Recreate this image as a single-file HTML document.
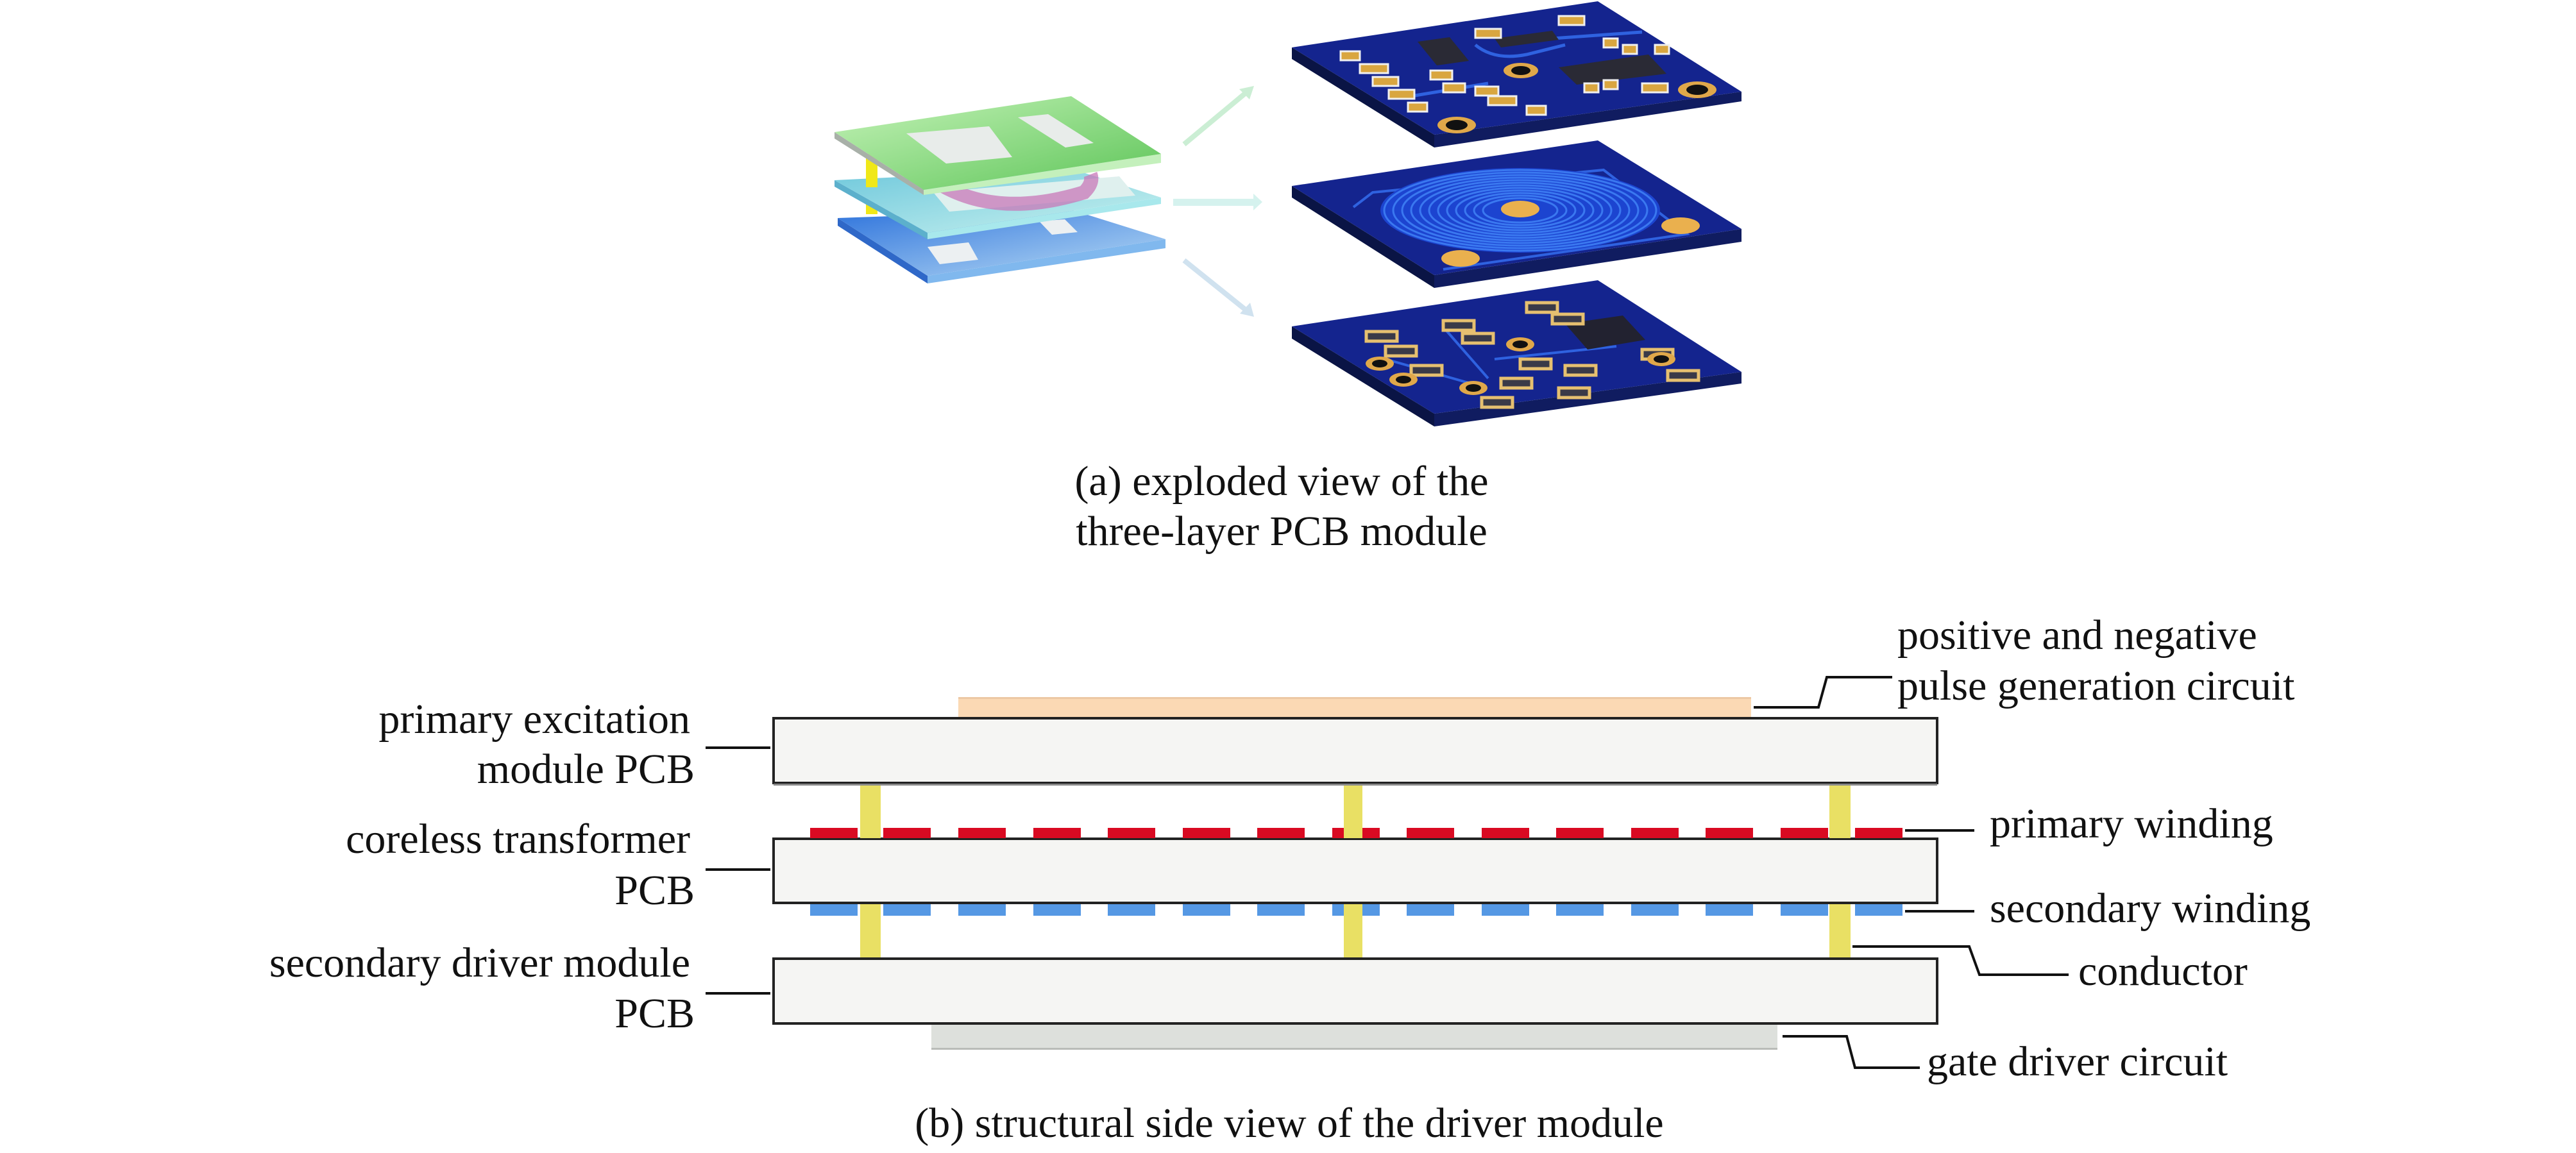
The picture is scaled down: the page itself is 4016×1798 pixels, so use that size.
<!DOCTYPE html>
<html><head><meta charset="utf-8"><style>
html,body{margin:0;padding:0;background:#fff;}
svg{display:block;}
text{font-family:"Liberation Serif",serif;fill:#111;}
</style></head><body>
<svg width="4016" height="1798" viewBox="0 0 4016 1798" xmlns="http://www.w3.org/2000/svg">
<defs>
<linearGradient id="gG" x1="0" y1="0" x2="1" y2="1"><stop offset="0" stop-color="#c5f3b8"/><stop offset="1" stop-color="#5cc457"/></linearGradient>
<linearGradient id="gC" x1="0" y1="0" x2="1" y2="1"><stop offset="0" stop-color="#6fc8dc"/><stop offset="1" stop-color="#c9f2ef"/></linearGradient>
<linearGradient id="gB" x1="0" y1="0" x2="1" y2="1"><stop offset="0" stop-color="#2f74dc"/><stop offset="1" stop-color="#b9dcf5"/></linearGradient>
</defs>

<polygon points="1306,340 1446,430 1446,442 1306,352" fill="#2f68c8"/>
<polygon points="1446,430 1817,373 1817,387 1446,442" fill="#80b8ee"/>
<polygon points="1306,340 1670,327 1817,373 1446,430" fill="url(#gB)"/>
<polygon points="1446,385 1510,378 1525,405 1465,412" fill="#ecf0f2"/>
<polygon points="1620,345 1660,342 1680,362 1640,366" fill="#ecf0f2"/>
<rect x="1350" y="318" width="18" height="16" fill="#f0e818"/>

<polygon points="1301,281 1446,363 1446,373 1301,291" fill="#5cb0cc"/>
<polygon points="1446,363 1810,308 1810,318 1446,373" fill="#a8e8ec"/>
<polygon points="1301,281 1670,263 1810,308 1446,363" fill="url(#gC)"/>
<polygon points="1455,300 1745,275 1770,305 1480,330" fill="#dff0ee"/>
<path d="M1470,290 Q1560,340 1690,300 Q1705,285 1700,272" fill="none" stroke="#c878b8" stroke-width="22" opacity="0.75"/>
<rect x="1350" y="240" width="18" height="52" fill="#f0e818"/>

<polygon points="1301,206 1440,296 1440,304 1301,216" fill="#a8b0a8"/>
<polygon points="1440,296 1810,240 1810,254 1440,304" fill="#c4f0bc"/>
<polygon points="1301,206 1670,150 1810,240 1440,296" fill="url(#gG)"/>
<polygon points="1413,208 1542,197 1578,245 1475,255" fill="#e8ecea"/>
<polygon points="1587,183 1634,178 1705,223 1661,230" fill="#e8ecea"/>

<line x1="1846" y1="225" x2="1948" y2="140" stroke="#cbeed4" stroke-width="8"/>
<polygon points="1955,134 1932,139 1948,155" fill="#cbeed4"/>
<rect x="1829" y="310" width="128" height="11" fill="#d5f2ee"/>
<polygon points="1968,315 1954,302 1954,328" fill="#d5f2ee"/>
<line x1="1846" y1="406" x2="1948" y2="488" stroke="#d0e2ef" stroke-width="8"/>
<polygon points="1955,494 1949,472 1933,489" fill="#d0e2ef"/>

<g>
<polygon points="2014,74 2236,210 2236,230 2014,92" fill="#0a1445"/>
<polygon points="2236,210 2715,143 2715,158 2236,230" fill="#101c60"/>
<polygon points="2014,74 2491,2 2715,143 2236,210" fill="#14248e"/>
<path d="M2300,70 Q2330,95 2380,85 L2440,70 M2200,150 L2320,130 M2420,60 L2560,50" stroke="#2f62e0" stroke-width="5" fill="none"/>
<polygon points="2430,105 2570,85 2598,115 2458,132" fill="#2a2a35"/>
<polygon points="2210,65 2260,58 2290,95 2240,102" fill="#2a2a35"/>
<polygon points="2330,60 2420,48 2430,62 2340,74" fill="#2a2a35"/>
<g fill="#d9a640" stroke="#f0f0f0" stroke-width="3">
<rect x="2090" y="80" width="30" height="14"/><rect x="2120" y="100" width="44" height="14"/><rect x="2140" y="120" width="40" height="14"/><rect x="2165" y="140" width="40" height="14"/><rect x="2195" y="160" width="30" height="14"/>
<rect x="2230" y="110" width="34" height="14"/><rect x="2250" y="130" width="34" height="14"/><rect x="2300" y="135" width="36" height="14"/><rect x="2320" y="150" width="44" height="14"/>
<rect x="2300" y="45" width="40" height="14"/><rect x="2430" y="25" width="40" height="14"/><rect x="2500" y="60" width="22" height="14"/><rect x="2530" y="70" width="22" height="14"/><rect x="2580" y="70" width="22" height="14"/>
<rect x="2560" y="130" width="40" height="14"/><rect x="2470" y="130" width="22" height="14"/><rect x="2500" y="125" width="22" height="14"/><rect x="2380" y="165" width="30" height="14"/>
</g>
<g fill="#e0a84a"><ellipse cx="2271" cy="195" rx="30" ry="13"/><ellipse cx="2646" cy="140" rx="30" ry="13"/><ellipse cx="2371" cy="110" rx="27" ry="12"/></g>
<g fill="#111"><ellipse cx="2271" cy="195" rx="17" ry="8"/><ellipse cx="2646" cy="140" rx="17" ry="8"/><ellipse cx="2371" cy="110" rx="15" ry="7"/></g>
</g>
<g>
<polygon points="2014,290 2236,429 2236,449 2014,308" fill="#0a1445"/>
<polygon points="2236,429 2715,357 2715,377 2236,449" fill="#101c60"/>
<polygon points="2014,290 2491,219 2715,357 2236,429" fill="#14248e"/>
<polyline points="2110,323 2140,300 2500,265 2630,365 2250,420" fill="none" stroke="#2f62e0" stroke-width="4"/>
<ellipse cx="2370" cy="328" rx="218" ry="66" fill="#1c44d0"/>
<g fill="none" stroke="#3a78f0" stroke-width="3">
<ellipse cx="2370" cy="328" rx="212" ry="63"/><ellipse cx="2370" cy="328" rx="198" ry="59"/><ellipse cx="2370" cy="328" rx="184" ry="55"/><ellipse cx="2370" cy="328" rx="170" ry="51"/><ellipse cx="2370" cy="328" rx="156" ry="47"/><ellipse cx="2370" cy="328" rx="142" ry="43"/><ellipse cx="2370" cy="328" rx="128" ry="39"/><ellipse cx="2370" cy="328" rx="114" ry="35"/><ellipse cx="2370" cy="328" rx="100" ry="31"/><ellipse cx="2370" cy="328" rx="86" ry="27"/><ellipse cx="2370" cy="328" rx="72" ry="23"/><ellipse cx="2370" cy="328" rx="58" ry="19"/>
</g>
<g fill="#eab04e"><ellipse cx="2370" cy="326" rx="30" ry="13"/><ellipse cx="2620" cy="352" rx="30" ry="13"/><ellipse cx="2277" cy="403" rx="30" ry="13"/></g>
</g>
<g>
<polygon points="2014,509 2236,645 2236,665 2014,528" fill="#0a1445"/>
<polygon points="2236,645 2715,580 2715,598 2236,665" fill="#101c60"/>
<polygon points="2014,509 2491,437 2715,580 2236,645" fill="#14248e"/>
<path d="M2250,510 L2320,590 M2330,560 L2520,540 M2160,560 L2300,600" stroke="#2f62e0" stroke-width="4" fill="none"/>
<polygon points="2440,505 2530,492 2565,530 2475,545" fill="#222230"/>
<g fill="#3a3a48" stroke="#e6c070" stroke-width="5">
<rect x="2130" y="517" width="48" height="15"/><rect x="2160" y="540" width="48" height="15"/><rect x="2250" y="500" width="48" height="15"/><rect x="2280" y="520" width="48" height="15"/><rect x="2380" y="472" width="48" height="15"/><rect x="2420" y="490" width="48" height="15"/>
<rect x="2370" y="560" width="48" height="15"/><rect x="2440" y="570" width="48" height="15"/><rect x="2560" y="545" width="48" height="15"/><rect x="2600" y="578" width="48" height="15"/>
<rect x="2340" y="590" width="48" height="15"/><rect x="2430" y="605" width="48" height="15"/><rect x="2310" y="620" width="48" height="15"/><rect x="2200" y="570" width="48" height="15"/>
</g>
<g fill="#e0a84a"><ellipse cx="2151" cy="567" rx="22" ry="11"/><ellipse cx="2188" cy="592" rx="22" ry="11"/><ellipse cx="2297" cy="605" rx="22" ry="11"/><ellipse cx="2370" cy="537" rx="22" ry="11"/><ellipse cx="2590" cy="560" rx="22" ry="11"/></g>
<g fill="#111"><ellipse cx="2151" cy="567" rx="12" ry="6"/><ellipse cx="2188" cy="592" rx="12" ry="6"/><ellipse cx="2297" cy="605" rx="12" ry="6"/><ellipse cx="2370" cy="537" rx="12" ry="6"/><ellipse cx="2590" cy="560" rx="12" ry="6"/></g>
</g>

<text x="1998" y="772" font-size="66" text-anchor="middle">(a) exploded view of the</text>
<text x="1998" y="850" font-size="66" text-anchor="middle">three-layer PCB module</text>

<rect x="1494" y="1087" width="1236" height="32" fill="#fbd9b4"/>
<rect x="1494" y="1087" width="1236" height="3" fill="#ecc8a4"/>
<g fill="#e9e064">
<rect x="1341" y="1221" width="32" height="86"/><rect x="2095" y="1221" width="29" height="86"/><rect x="2852" y="1221" width="33" height="86"/>
<rect x="1341" y="1408" width="32" height="88"/><rect x="2095" y="1408" width="29" height="88"/><rect x="2852" y="1408" width="33" height="88"/>
</g>
<g fill="#f5f5f3" stroke="#222" stroke-width="4">
<rect x="1206" y="1120" width="1814" height="101"/>
<rect x="1206" y="1308" width="1814" height="100"/>
<rect x="1206" y="1495" width="1814" height="101"/>
</g>
<rect x="1206" y="1222" width="1814" height="3" fill="#888"/>
<rect x="1452" y="1598" width="1319" height="38" fill="#dde0dc"/>
<rect x="1452" y="1634" width="1319" height="3" fill="#b9bcb8"/>
<g fill="#d90a22">
<rect x="1263" y="1291" width="74" height="16"/><rect x="1377" y="1291" width="74" height="16"/><rect x="1494" y="1291" width="74" height="16"/><rect x="1611" y="1291" width="74" height="16"/><rect x="1727" y="1291" width="74" height="16"/><rect x="1844" y="1291" width="74" height="16"/><rect x="1960" y="1291" width="74" height="16"/><rect x="2077" y="1291" width="74" height="16"/><rect x="2193" y="1291" width="74" height="16"/><rect x="2310" y="1291" width="74" height="16"/><rect x="2426" y="1291" width="74" height="16"/><rect x="2543" y="1291" width="74" height="16"/><rect x="2659" y="1291" width="74" height="16"/><rect x="2776" y="1291" width="74" height="16"/><rect x="2892" y="1291" width="74" height="16"/>
</g>
<g fill="#5598e4">
<rect x="1263" y="1410" width="74" height="18"/><rect x="1377" y="1410" width="74" height="18"/><rect x="1494" y="1410" width="74" height="18"/><rect x="1611" y="1410" width="74" height="18"/><rect x="1727" y="1410" width="74" height="18"/><rect x="1844" y="1410" width="74" height="18"/><rect x="1960" y="1410" width="74" height="18"/><rect x="2077" y="1410" width="74" height="18"/><rect x="2193" y="1410" width="74" height="18"/><rect x="2310" y="1410" width="74" height="18"/><rect x="2426" y="1410" width="74" height="18"/><rect x="2543" y="1410" width="74" height="18"/><rect x="2659" y="1410" width="74" height="18"/><rect x="2776" y="1410" width="74" height="18"/><rect x="2892" y="1410" width="74" height="18"/>
</g>
<g fill="#e9e064"><rect x="1341" y="1291" width="32" height="16"/><rect x="2095" y="1291" width="29" height="16"/><rect x="2852" y="1291" width="33" height="16"/>
<rect x="1341" y="1410" width="32" height="18"/><rect x="2095" y="1410" width="29" height="18"/><rect x="2852" y="1410" width="33" height="18"/></g>

<g stroke="#111" stroke-width="4" fill="none">
<line x1="1100" y1="1166" x2="1201" y2="1166"/>
<line x1="1100" y1="1356" x2="1201" y2="1356"/>
<line x1="1100" y1="1549" x2="1201" y2="1549"/>
<polyline points="2734,1103 2835,1103 2848,1056 2950,1056"/>
<line x1="2970" y1="1295" x2="3078" y2="1295"/>
<line x1="2970" y1="1421" x2="3078" y2="1421"/>
<polyline points="2888,1476 3070,1476 3086,1520 3225,1520"/>
<polyline points="2779,1616 2879,1616 2892,1665 2993,1665"/>
</g>

<g font-size="66">
<text x="1076" y="1143" text-anchor="end">primary excitation</text>
<text x="1083" y="1221" text-anchor="end">module PCB</text>
<text x="1076" y="1330" text-anchor="end">coreless transformer</text>
<text x="1083" y="1410" text-anchor="end">PCB</text>
<text x="1076" y="1523" text-anchor="end">secondary driver module</text>
<text x="1083" y="1602" text-anchor="end">PCB</text>
<text x="2958" y="1012">positive and negative</text>
<text x="2958" y="1091">pulse generation circuit</text>
<text x="3102" y="1306">primary winding</text>
<text x="3102" y="1438">secondary winding</text>
<text x="3240" y="1536">conductor</text>
<text x="3004" y="1677">gate driver circuit</text>
<text x="2010" y="1773" text-anchor="middle">(b) structural side view of the driver module</text>
</g>
</svg>
</body></html>
